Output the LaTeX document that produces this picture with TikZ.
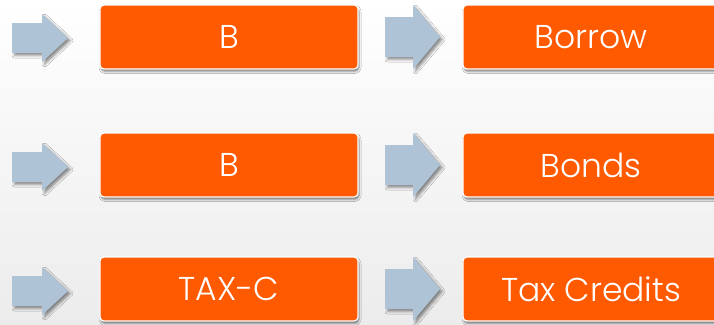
\documentclass[tikz,border=0pt]{standalone}
\usepackage{fontspec}
\setmainfont{Poppins}[UprightFont=* Light]
\usetikzlibrary{shadows.blur}
\definecolor{boxor}{HTML}{FF5A00}
\definecolor{arrbl}{HTML}{AEC3D6}
\newcommand{\rarrow}[6]{%
  \fill[arrbl, blur shadow={shadow xshift=2.5pt, shadow yshift=-2.5pt, shadow blur radius=2.5pt, shadow opacity=45}]
    (#1,{#4-#5}) -- (#2,{#4-#5}) -- (#2,{#4-#6}) -- (#3,#4) -- (#2,{#4+#6}) -- (#2,{#4+#5}) -- (#1,{#4+#5}) -- cycle;}
\begin{document}
\begin{tikzpicture}[x=1pt,y=-1pt,
  stepbox/.style={fill=boxor, draw=white, line width=1.2pt, rounded corners=4pt,
    text=white, font=\fontsize{33}{33}\selectfont, inner sep=0pt,
    minimum height=64pt,
    blur shadow={shadow xshift=1pt, shadow yshift=-2.5pt, shadow blur radius=2pt, shadow opacity=50}}]
\shade[top color=white, bottom color=gray!15] (0,0) rectangle (714,324);
\useasboundingbox (0,0) rectangle (714,324);
% left arrows
\rarrow{12}{42}{68}{38}{15}{24}
\rarrow{12}{42}{68}{167}{15}{24}
\rarrow{12}{42}{68}{291}{15}{24}
% middle arrows
\rarrow{385}{413}{440}{37}{20}{32}
\rarrow{385}{413}{440}{165}{20}{32}
\rarrow{385}{413}{440}{289}{20}{32}
% boxes
\node[stepbox, minimum width=258pt] (a1) at (229,37) {B};
\node[stepbox, minimum width=258pt] (a2) at (229,165) {B};
\node[stepbox, minimum width=258pt] (a3) at (229,289) {TAX-C};
\node[stepbox, minimum width=256pt] (b1) at (591,37) {Borrow};
\node[stepbox, minimum width=256pt] (b2) at (591,165) {Bonds};
\node[stepbox, minimum width=256pt] (b3) at (591,289) {Tax Credits};
\end{tikzpicture}
\end{document}
